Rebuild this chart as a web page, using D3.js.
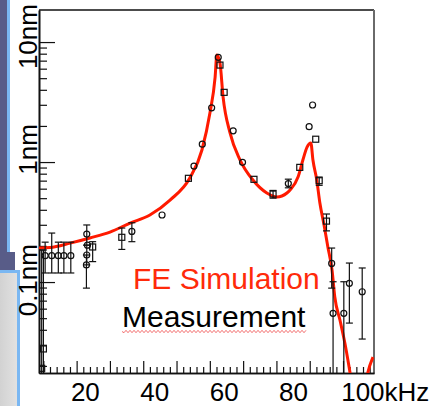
<!DOCTYPE html>
<html>
<head>
<meta charset="utf-8">
<script src="https://cdn.jsdelivr.net/npm/d3@7"></script>
<style>
  html, body { margin: 0; padding: 0; background: #fff; }
  svg { display: block; font-family: "Liberation Sans", Arial, sans-serif; }
</style>
</head>
<body>
<svg id="chart" width="434" height="406"></svg>
<script>
// Finite-element simulation of the response amplitude (kHz, nm)
const simFreq = [6.6, 9.8, 15.6, 21.3, 27.1, 32.9, 38.6, 44.4, 50.1, 53.6, 55.9, 57.4, 57.9, 58.8, 59.7, 61.7,
                 64.6, 68.3, 72.3, 75.2, 78.1, 79.0, 81.3, 82.7, 83.9, 85.0, 85.6, 86.7, 87.6, 88.8, 89.9,
                 91.1, 91.9, 93.4, 94.8, 96.3, 98.9, 101.4, 102.9];
const simAmp  = [0.192, 0.194, 0.211, 0.233, 0.261, 0.310, 0.362, 0.482, 0.736, 1.26, 2.56, 5.11, 7.8, 6.68, 3.48, 1.75,
                 1.04, 0.708, 0.552, 0.511, 0.552, 0.585, 0.750, 1.04, 1.33, 1.44, 1.04, 0.708, 0.455, 0.299, 0.196,
                 0.126, 0.075, 0.048, 0.031, 0.0175, 0.006, 0.0175, 0.0237];

// Measured amplitudes, run A (open circles) with error limits
const circFreq = [8.4, 10.3, 12.2, 13.8, 15.8, 20.4, 20.6, 20.4, 20.3, 33.4, 42.1, 51.3, 53.7, 56.4, 58.3,
                  62.6, 65.3, 78.5, 84.5, 85.5, 91.0, 91.4, 94.5, 96.1, 99.8];
const circAmp  = [0.166, 0.166, 0.166, 0.166, 0.166, 0.251, 0.203, 0.168, 0.139, 0.264, 0.362, 0.926, 1.41, 2.83, 7.46,
                  1.82, 0.994, 0.662, 1.97, 2.99, 0.143, 0.0549, 0.0549, 0.0976, 0.083];
const circLo   = [0.119, 0.119, 0.119, 0.119, 0.119, 0.203, null, 0.139, 0.089, 0.217, null, null, null, null, null,
                  null, null, 0.61, null, null, 0.089, 0.001, 0.001, 0.0455, 0.0335];
const circHi   = [0.215, 0.256, 0.215, 0.215, 0.215, 0.299, null, 0.203, 0.168, 0.312, null, null, null, null, null,
                  null, null, 0.72, null, null, 0.192, 0.1006, 0.1006, 0.144, 0.131];

// Measured amplitudes, run B (open squares) with error limits
const sqFreq = [7.4, 7.9, 22.1, 30.5, 49.7, 58.8, 60.0, 68.6, 74.1, 81.8, 86.4, 87.4, 89.5];
const sqAmp  = [0.0191, 0.0277, 0.196, 0.236, 0.732, 6.43, 3.81, 0.718, 0.541, 0.903, 1.55, 0.699, 0.322];
const sqLo   = [0.001, 0.001, 0.148, 0.187, null, null, null, null, 0.50, null, null, 0.64, 0.267];
const sqHi   = [0.185, 0.185, 0.217, 0.282, null, null, null, null, 0.58, null, null, 0.75, 0.369];

// Axis labels
const yTickValues = [10, 1, 0.1];
const yTickLabels = ["10nm", "1nm", "0.1nm"];
const xTickValues = [20, 40, 60, 80, 100];
const xTickLabels = ["20", "40", "60", "80", "100kHz"];

const legendSim = "FE Simulation";
const legendMeas = "Measurement";

const svg = d3.select("#chart");
const W = 434, H = 406;
const plot = { left: 39, right: 374, top: 10, bottom: 373 };

// ---- slide background pieces at the left edge ----
svg.append("rect").attr("x", 0).attr("y", 0).attr("width", 7).attr("height", 272).attr("fill", "#585c88");
svg.append("rect").attr("x", 0).attr("y", 252).attr("width", 15).attr("height", 20).attr("fill", "#585c88");
svg.append("rect").attr("x", 7).attr("y", 0).attr("width", 3).attr("height", 252).attr("fill", "#7ab7f2");
const defs = svg.append("defs");
const grad = defs.append("linearGradient").attr("id", "panelGrad").attr("x1", 0).attr("x2", 1).attr("y1", 0).attr("y2", 0);
grad.append("stop").attr("offset", "0%").attr("stop-color", "#d2d2d2");
grad.append("stop").attr("offset", "100%").attr("stop-color", "#e4e4e4");
svg.append("rect").attr("x", 0).attr("y", 272).attr("width", 20).attr("height", H - 272).attr("fill", "url(#panelGrad)");
svg.append("rect").attr("x", 0).attr("y", 270).attr("width", 20).attr("height", 3).attr("fill", "#7ab7f2");
svg.append("rect").attr("x", 17).attr("y", 270).attr("width", 3).attr("height", H - 270).attr("fill", "#7ab7f2");

// ---- scales ----
const x = d3.scaleLinear().domain([6.63, 103.2]).range([plot.left, plot.right]);
const y = d3.scaleLog().domain([0.01746, 18.5]).range([plot.bottom, plot.top]);
// frame tick scale (unlabelled divisions of the frame)
const xTick = d3.scaleLinear().domain([-1.3, 99.3]).range([plot.left, plot.right]);

defs.append("clipPath").attr("id", "plotClip").append("rect")
  .attr("x", plot.left).attr("y", plot.top)
  .attr("width", plot.right - plot.left).attr("height", plot.bottom - plot.top);

// ---- frame ----
svg.append("line").attr("x1", plot.left).attr("x2", plot.right).attr("y1", plot.top).attr("y2", plot.top)
  .attr("stroke", "#111").attr("stroke-width", 1.6);
svg.append("line").attr("x1", plot.right).attr("x2", plot.right).attr("y1", plot.top).attr("y2", plot.bottom)
  .attr("stroke", "#6a6a6a").attr("stroke-width", 2);

// y axis: log decades, ticks pointing inward
const yMinor = [], yMajor = [];
for (let d = -2; d <= 1; d++) {
  for (let k = 1; k <= 9; k++) {
    const v = k * Math.pow(10, d);
    if (v < y.domain()[0] || v > y.domain()[1]) continue;
    (k === 1 ? yMajor : yMinor).push(v);
  }
}
const yAxisMinor = svg.append("g").attr("transform", `translate(${plot.left},0)`)
  .call(d3.axisRight(y).tickValues(yMinor).tickSize(8).tickSizeOuter(0).tickFormat(""));
const yAxisMajor = svg.append("g").attr("transform", `translate(${plot.left},0)`)
  .call(d3.axisRight(y).tickValues(yMajor).tickSize(16).tickSizeOuter(0).tickFormat(""));
[yAxisMinor, yAxisMajor].forEach(g => {
  g.selectAll("line").attr("stroke", "#111").attr("stroke-width", 1.2);
  g.select(".domain").attr("stroke", "#111").attr("stroke-width", 1.6);
});

// x axis: frame divisions, ticks pointing up
const xMinor = d3.range(0, 100, 2).filter(v => v % 10 !== 0);
const xMajor = d3.range(0, 100, 10);
const xAxisMinor = svg.append("g").attr("transform", `translate(0,${plot.bottom})`)
  .call(d3.axisTop(xTick).tickValues(xMinor).tickSize(6).tickSizeOuter(0).tickFormat(""));
const xAxisMajor = svg.append("g").attr("transform", `translate(0,${plot.bottom})`)
  .call(d3.axisTop(xTick).tickValues(xMajor).tickSize(12).tickSizeOuter(0).tickFormat(""));
[xAxisMinor, xAxisMajor].forEach(g => {
  g.selectAll("line").attr("stroke", "#111").attr("stroke-width", 1.2);
  g.select(".domain").attr("stroke", "#111").attr("stroke-width", 1.6);
});

// y labels, rotated
yTickValues.forEach((v, i) => {
  svg.append("text")
    .attr("transform", `translate(${plot.left - 2},${y(v) - 38}) rotate(-90)`)
    .attr("text-anchor", "end")
    .attr("font-size", 26)
    .attr("fill", "#000")
    .text(yTickLabels[i]);
});

// x labels: the numeric part is centred on its value
xTickValues.forEach((v, i) => {
  const t = svg.append("text")
    .attr("y", 401)
    .attr("font-size", 26)
    .attr("fill", "#000")
    .attr("text-anchor", "start")
    .text(xTickLabels[i]);
  const numLen = String(v).length;
  const w = t.node().getSubStringLength(0, numLen);
  t.attr("x", x(v) - w / 2);
});

// ---- data ----
const gData = svg.append("g").attr("clip-path", "url(#plotClip)");

const line = d3.line()
  .x(d => x(d[0]))
  .y(d => y(d[1]))
  .curve(d3.curveMonotoneX);
gData.append("path")
  .datum(simFreq.map((f, i) => [f, simAmp[i]]))
  .attr("d", line)
  .attr("fill", "none")
  .attr("stroke", "#ff1a00")
  .attr("stroke-width", 3)
  .attr("stroke-linejoin", "round");

function drawErrors(freq, lo, hi) {
  freq.forEach((f, i) => {
    if (lo[i] == null) return;
    const cx = x(f);
    gData.append("line").attr("x1", cx).attr("x2", cx).attr("y1", y(lo[i])).attr("y2", y(hi[i]))
      .attr("stroke", "#111").attr("stroke-width", 1.2);
    [lo[i], hi[i]].forEach(v => {
      gData.append("line").attr("x1", cx - 3.5).attr("x2", cx + 3.5).attr("y1", y(v)).attr("y2", y(v))
        .attr("stroke", "#111").attr("stroke-width", 1.2);
    });
  });
}
drawErrors(circFreq, circLo, circHi);
drawErrors(sqFreq, sqLo, sqHi);

gData.selectAll("circle.meas")
  .data(circFreq.map((f, i) => [f, circAmp[i]]))
  .join("circle")
  .attr("class", "meas")
  .attr("cx", d => x(d[0]))
  .attr("cy", d => y(d[1]))
  .attr("r", 3)
  .attr("fill", "none")
  .attr("stroke", "#111")
  .attr("stroke-width", 1.2);

gData.selectAll("rect.meas")
  .data(sqFreq.map((f, i) => [f, sqAmp[i]]))
  .join("rect")
  .attr("class", "meas")
  .attr("x", d => x(d[0]) - 3)
  .attr("y", d => y(d[1]) - 3)
  .attr("width", 6)
  .attr("height", 6)
  .attr("fill", "none")
  .attr("stroke", "#111")
  .attr("stroke-width", 1.2);

// ---- legend text ----
svg.append("text").attr("x", 133).attr("y", 289).attr("font-size", 30).attr("fill", "#ff2a0a").text(legendSim);
const meas = svg.append("text").attr("x", 122).attr("y", 327).attr("font-size", 30).attr("fill", "#000").text(legendMeas);
const mw = meas.node().getComputedTextLength();
// spell-check style wavy underline
const wave = d3.path();
const wy = 331.5;
wave.moveTo(122, wy);
for (let px = 122, k = 0; px < 122 + mw; px += 2, k++) {
  wave.lineTo(px + 2, wy + (k % 2 === 0 ? 1.2 : -1.2));
}
svg.append("path").attr("d", wave.toString()).attr("fill", "none").attr("stroke", "#f06060").attr("stroke-width", 0.9);
</script>
</body>
</html>
